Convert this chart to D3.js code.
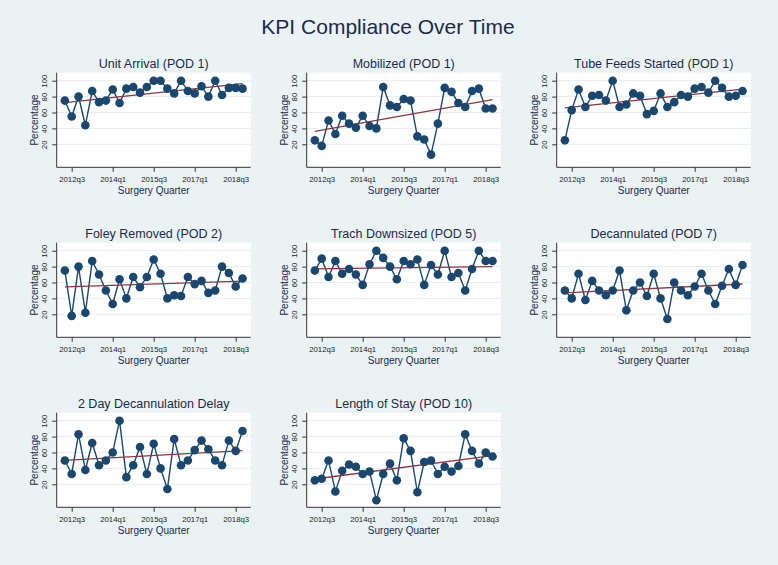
<!DOCTYPE html>
<html>
<head>
<meta charset="utf-8">
<script src="https://cdn.jsdelivr.net/npm/d3@7"></script>
<style>
  html, body { margin: 0; padding: 0; background: #eaf2f3; }
  svg { display: block; font-family: "Liberation Sans", Arial, Helvetica, sans-serif; }
</style>
</head>
<body>
<svg id="chart" width="778" height="565"></svg>
<script>
// ---------- data ----------
const quarters = [
  "2012q2","2012q3","2012q4",
  "2013q1","2013q2","2013q3","2013q4",
  "2014q1","2014q2","2014q3","2014q4",
  "2015q1","2015q2","2015q3","2015q4",
  "2016q1","2016q2","2016q3","2016q4",
  "2017q1","2017q2","2017q3","2017q4",
  "2018q1","2018q2","2018q3","2018q4"
];
const xTickLabels = ["2012q3","2014q1","2015q3","2017q1","2018q3"];
const yTickValues = [20, 40, 60, 80, 100];
const mainTitle = "KPI Compliance Over Time";
const xAxisTitle = "Surgery Quarter";
const yAxisTitle = "Percentage";

const panelTitles = [
  "Unit Arrival (POD 1)",
  "Mobilized (POD 1)",
  "Tube Feeds Started (POD 1)",
  "Foley Removed (POD 2)",
  "Trach Downsized (POD 5)",
  "Decannulated (POD 7)",
  "2 Day Decannulation Delay",
  "Length of Stay (POD 10)"
];

const unitArrival       = [75,55,80,44,87,73,75,89,72,90,92,85,92,100,100,90,84,100,87,84,93,80,100,82,91,91,90];
const mobilized         = [25,18,50,33,56,46,41,56,43,40,92,69,67,77,75,30,26,7,46,91,86,72,67,87,90,65,65];
const tubeFeedsStarted  = [25,63,89,67,81,82,75,100,67,70,84,81,58,62,84,67,73,82,80,90,92,85,100,91,80,81,87];
const foleyRemoved      = [75,18,80,22,87,70,50,33,64,40,67,54,67,89,71,40,44,43,67,58,62,47,50,80,72,55,65];
const trachDownsized    = [75,90,67,87,71,77,70,57,83,100,91,80,64,87,83,89,57,82,70,100,67,72,50,77,100,87,87];
const decannulated      = [50,40,71,38,62,50,44,50,75,25,50,60,43,71,40,14,60,50,44,55,71,50,33,56,77,57,82];
const decannulationDelay= [50,33,83,38,72,44,50,60,100,29,44,67,33,71,40,14,77,44,50,63,75,64,50,44,75,62,87];
const lengthOfStay      = [25,27,50,11,37,45,42,33,36,0,33,46,25,78,62,10,48,50,33,42,36,43,83,62,46,60,55];

const series = [unitArrival, mobilized, tubeFeedsStarted, foleyRemoved,
                trachDownsized, decannulated, decannulationDelay, lengthOfStay];

// ---------- layout ----------
const colLeft = [56.7, 306.7, 556.7];
const rowTop = [72.7, 242.7, 412.7];
const plotW = 194;
const plotH = 94.6;

const navy = "#1a476f";
const maroon = "#90353b";
const titleColor = "#1c2a4a";
const textColor = "#222";

const svg = d3.select("#chart");
svg.append("rect").attr("width", 778).attr("height", 565).attr("fill", "#eaf2f3");

svg.append("text")
  .attr("x", 388).attr("y", 34)
  .attr("text-anchor", "middle")
  .attr("font-size", 21)
  .attr("fill", titleColor)
  .text(mainTitle);

const idx = q => quarters.indexOf(q);
const x = d3.scaleLinear()
  .domain([idx("2012q3"), idx("2018q3")])
  .range([15, 179]);
const y = d3.scaleLinear()
  .domain([20, 100])
  .range([71.6, 8]);

function fit(vals) {
  const n = vals.length;
  const xs = vals.map((v, i) => i);
  const mx = d3.mean(xs), my = d3.mean(vals);
  let sxy = 0, sxx = 0;
  xs.forEach((xi, i) => { sxy += (xi - mx) * (vals[i] - my); sxx += (xi - mx) * (xi - mx); });
  const b = sxy / sxx, a = my - b * mx;
  return [[0, a], [n - 1, a + b * (n - 1)]];
}

series.forEach((vals, k) => {
  const col = k % 3, row = Math.floor(k / 3);
  const g = svg.append("g").attr("transform", `translate(${colLeft[col]},${rowTop[row]})`);

  g.append("rect").attr("width", plotW).attr("height", plotH).attr("fill", "#ffffff");

  // gridlines
  g.selectAll("line.grid").data(yTickValues).enter().append("line")
    .attr("class", "grid")
    .attr("x1", 0).attr("x2", plotW)
    .attr("y1", d => y(d)).attr("y2", d => y(d))
    .attr("stroke", "#e6eef0").attr("stroke-width", 1);

  // x axis
  const xAxis = d3.axisBottom(x)
    .tickValues(xTickLabels.map(idx))
    .tickFormat(i => quarters[i])
    .tickSize(4.5).tickSizeOuter(0).tickPadding(4);
  const gx = g.append("g").attr("transform", `translate(0,${plotH})`).call(xAxis);
  gx.select(".domain").remove();
  gx.selectAll(".tick line").attr("stroke", "#333");
  gx.selectAll(".tick text")
    .attr("font-size", 7.8).attr("fill", textColor)
    .attr("font-family", "Liberation Sans, Arial, sans-serif")
    .attr("y", 15).attr("dy", 0);

  // y axis
  const yAxis = d3.axisLeft(y).tickValues(yTickValues).tickSize(4.5).tickSizeOuter(0);
  const gy = g.append("g").call(yAxis);
  gy.select(".domain").remove();
  gy.selectAll(".tick line").attr("stroke", "#333");
  gy.selectAll(".tick text")
    .attr("font-size", 7.8).attr("fill", textColor)
    .attr("font-family", "Liberation Sans, Arial, sans-serif")
    .attr("x", 0).attr("y", -9.4).attr("dy", 0)
    .attr("text-anchor", "middle")
    .attr("transform", "rotate(-90)");

  // axis lines
  g.append("line").attr("x1", 0).attr("x2", 0).attr("y1", 0).attr("y2", plotH)
    .attr("stroke", "#333").attr("stroke-width", 1);
  g.append("line").attr("x1", 0).attr("x2", plotW).attr("y1", plotH).attr("y2", plotH)
    .attr("stroke", "#333").attr("stroke-width", 1);

  // titles
  g.append("text").attr("x", plotW / 2).attr("y", -4.5)
    .attr("text-anchor", "middle").attr("font-size", 12.5).attr("fill", titleColor)
    .text(panelTitles[k]);
  g.append("text").attr("x", plotW / 2).attr("y", plotH + 26.5)
    .attr("text-anchor", "middle").attr("font-size", 10).attr("fill", titleColor)
    .text(xAxisTitle);
  g.append("text")
    .attr("transform", `translate(-18.7,${plotH / 2}) rotate(-90)`)
    .attr("text-anchor", "middle").attr("font-size", 10).attr("fill", titleColor)
    .text(yAxisTitle);

  // data line
  const line = d3.line().x((d, i) => x(i)).y(d => y(d));
  g.append("path").datum(vals).attr("d", line)
    .attr("fill", "none").attr("stroke", navy).attr("stroke-width", 1.4);

  // fit line
  const f = fit(vals);
  g.append("line")
    .attr("x1", x(f[0][0])).attr("y1", y(f[0][1]))
    .attr("x2", x(f[1][0])).attr("y2", y(f[1][1]))
    .attr("stroke", maroon).attr("stroke-width", 1.3);

  // markers
  g.selectAll("circle").data(vals).enter().append("circle")
    .attr("cx", (d, i) => x(i)).attr("cy", d => y(d))
    .attr("r", 4.3).attr("fill", navy);
});
</script>
</body>
</html>
